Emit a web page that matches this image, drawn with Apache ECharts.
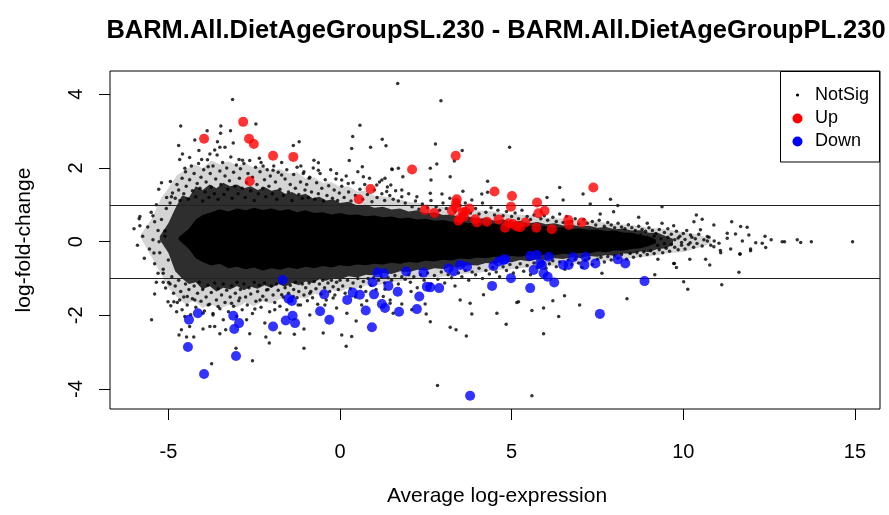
<!DOCTYPE html>
<html><head><meta charset="utf-8">
<script src="https://cdn.jsdelivr.net/npm/echarts@6/dist/echarts.min.js"></script>
<style>html,body{margin:0;padding:0;background:#fff}#c{width:889px;height:515px}</style>
</head><body><div id="c"></div>
<script>
const titleText = 'BARM.All.DietAgeGroupSL.230 - BARM.All.DietAgeGroupPL.230';
const xLabel = 'Average log-expression';
const yLabel = 'log-fold-change';
const xTicks = [-5, 0, 5, 10, 15];
const yTicks = [-4, -2, 0, 2, 4];
const xRange = [-6.7, 15.73];
const yRange = [-4.54, 4.63];
const thresholds = [1, -1];
const legendNames = ['NotSig', 'Up', 'Down'];

// significant genes
const upPoints = [[-3.96,2.79],[-2.82,3.25],[-2.65,2.79],[-2.51,2.65],[-2.63,1.64],[-1.95,2.33],[-1.36,2.30],[0.55,1.15],[0.89,1.43],[2.10,1.96],[3.37,2.33],[2.47,0.86],[2.75,0.78],[3.26,0.84],[3.38,1.05],[3.40,1.15],[3.38,0.95],[3.50,0.63],[3.58,0.80],[3.65,0.81],[3.77,0.90],[3.45,0.57],[3.60,0.68],[3.94,0.61],[3.99,0.52],[4.28,0.54],[4.50,1.36],[4.62,0.60],[4.81,0.38],[4.91,0.50],[5.01,1.24],[4.98,0.95],[5.04,0.48],[5.15,0.41],[5.25,0.39],[5.40,0.52],[5.72,0.38],[5.74,1.06],[5.78,0.77],[5.96,0.84],[6.17,0.34],[6.65,0.59],[6.67,0.45],[7.05,0.52],[7.38,1.47]];
const downPoints = [[-1.67,-1.04],[-4.40,-2.12],[-4.14,-1.94],[-4.43,-2.86],[-3.96,-3.59],[-3.11,-2.01],[-2.94,-2.21],[-3.08,-2.37],[-3.03,-3.10],[-1.95,-2.30],[-1.50,-1.55],[-1.40,-1.61],[-1.58,-2.14],[-1.38,-2.01],[-1.31,-2.21],[-0.46,-1.43],[-0.58,-1.89],[-0.31,-2.12],[0.21,-1.58],[0.37,-1.38],[0.58,-1.44],[0.75,-1.87],[0.93,-2.32],[0.99,-1.43],[0.95,-1.10],[1.09,-0.84],[1.28,-0.86],[1.41,-1.20],[1.22,-1.69],[1.31,-1.80],[1.68,-1.36],[1.72,-1.90],[1.93,-0.81],[2.31,-1.49],[2.24,-1.83],[2.43,-0.84],[2.53,-1.22],[2.63,-1.24],[2.89,-1.26],[3.16,-0.72],[3.31,-0.81],[3.50,-0.63],[3.70,-0.68],[4.43,-1.20],[4.47,-0.66],[4.62,-0.54],[4.76,-0.50],[4.81,-0.48],[4.98,-0.99],[5.54,-1.26],[5.54,-0.39],[5.74,-0.36],[5.64,-0.77],[5.83,-0.59],[5.88,-0.63],[5.93,-0.86],[6.08,-0.41],[6.05,-0.95],[6.24,-1.11],[6.50,-0.63],[6.66,-0.63],[6.79,-0.42],[7.15,-0.41],[7.12,-0.63],[7.44,-0.59],[8.09,-0.48],[8.31,-0.59],[8.87,-1.07],[7.57,-1.96],[3.79,-4.18]];

// not significant genes: isolated points
const notSigOutliers = `-3.13,3.86 -4.64,3.14 -3.47,3.14 -2.45,3.19 -3.87,3.01 -3.19,3.01 -3.48,2.94 -4.23,2.76 -4.70,2.61 -3.57,2.71 -3.35,2.56 -3.11,2.68 -4.11,2.47 -1.36,2.61 -1.19,2.71 0.58,3.16 0.37,2.85 1.23,2.78 1.34,2.60 0.89,2.56 0.34,2.53 0.27,2.20 0.65,2.03 1.68,4.29 1.52,1.96 1.70,1.99 -0.76,2.21 -0.63,2.14 -1.14,2.05
-5.83,0.68 -5.83,0.43 -5.45,0.70 -5.40,0.54 -5.28,1.42 -5.20,1.60 -4.94,1.63 -5.10,0.29 -5.06,0.90 -4.91,1.22 -4.67,2.23 -4.59,2.38 -4.38,2.28 -4.52,1.99 -4.03,2.23 -3.79,2.38 -3.65,2.49 -3.50,2.56 -3.84,2.03 -2.94,2.23 -2.84,2.21 -2.35,2.26 -2.24,2.05 -1.95,1.94 -1.70,1.81 -1.07,1.85 -0.90,1.72 -0.63,1.94 -0.10,1.85 0.05,1.67 0.24,1.58 0.68,1.76 1.07,1.54 1.31,1.72 1.48,1.54
2.94,3.82 2.78,2.65 4.94,2.56 3.56,2.47 3.33,2.19 2.82,2.11 2.63,1.99 2.65,1.67 3.21,1.76 1.83,1.76 1.51,1.97 4.30,1.64 6.40,1.47 7.08,1.29 7.88,1.15 8.09,0.98 6.50,1.13 7.29,1.02 9.38,0.95 9.38,0.50 9.72,0.43 3.58,1.37 4.13,1.29 4.30,1.34 3.84,1.13 2.97,1.29 2.63,1.31 2.24,1.22 1.80,1.40 1.36,1.36 1.22,1.67 6.03,1.20 7.58,0.75 7.97,0.81 8.70,0.66 8.95,0.50
10.38,0.72 10.55,0.61 10.31,0.54 10.89,0.45 11.41,0.54 11.67,0.41 11.86,0.39 11.28,0.23 11.52,0.21 11.72,0.02 11.91,0.18 12.11,-0.03 12.38,0.15 12.56,0.05 12.30,-0.04 12.88,0.00 12.95,0.00 13.32,0.05 13.42,-0.02 13.73,0.00 14.93,0.00 11.65,-0.33 11.96,-0.20 11.04,-0.04 10.89,-0.14 11.28,0.09 10.70,0.14 10.50,0.32 10.21,0.18 11.08,-0.24
9.72,-0.59 9.80,-0.70 10.19,-0.48 10.65,-0.48 10.77,-0.63 11.65,-0.34 11.62,-0.83 10.01,-1.09 10.13,-1.29 11.12,-1.17 11.96,-0.25 12.40,-0.16 11.09,-0.30 11.38,-0.20
1.26,-1.49 1.31,-1.29 1.80,-1.69 2.07,-1.35 2.48,-1.69 2.51,-1.96 2.63,-2.17 3.21,-2.32 3.38,-2.39 3.68,-2.56 3.50,-1.58 3.79,-1.67 3.84,-1.96 4.18,-1.44 4.57,-1.94 4.84,-2.24 5.15,-1.65 5.20,-1.63 5.59,-1.87 5.93,-1.80 5.93,-2.50 6.20,-1.60 6.37,-2.03 6.54,-1.47 6.98,-1.72 8.36,-1.55 7.63,-0.86 9.17,-0.90 9.26,-0.48 9.74,-0.59 2.84,-3.90 5.59,-4.18 2.09,-1.85 1.46,-1.67
-5.49,-2.12 -5.40,-1.42 -5.42,-0.31 -5.30,-0.86 -5.27,0.00 -5.15,-0.86 -5.35,-1.10 -5.15,-1.10 -4.99,-1.11 -5.08,-1.26 -5.01,-1.63 -4.84,-1.63 -4.93,-1.74 -4.76,-1.90 -4.62,-2.39 -4.69,-2.53 -4.47,-2.59 -4.26,-2.59 -4.38,-2.30 -3.99,-2.37 -3.79,-2.30 -3.65,-2.30 -3.74,-3.31 -3.03,-2.89 -2.55,-3.23 -3.33,-2.39 -3.50,-2.50 -2.63,-2.50 -2.16,-2.59 -2.06,-2.75 -1.75,-2.48 -1.33,-2.51 -1.05,-2.37 -1.05,-2.89 0.18,-2.84 0.34,-2.57 0.47,-2.15 0.05,-2.53 -0.49,-2.48 -0.88,-1.99 -1.22,-1.72 -1.90,-1.85 -2.19,-2.21 -2.48,-1.83 -2.72,-2.12 -3.01,-2.03 -3.40,-2.12 -3.70,-1.99 -3.99,-1.94 -4.52,-2.03 -4.67,-1.58 -4.45,-1.49 -4.23,-1.58 -0.44,-1.72 -0.10,-1.80 -0.20,-1.53 0.20,-1.94 0.63,-1.72 0.78,-1.60 1.46,-1.58 1.55,-1.94 -1.36,-1.49 -0.88,-1.40 -1.70,-1.44 -2.14,-1.31 -2.33,-1.58 -2.92,-1.53 -3.16,-1.67 -3.55,-1.76 -3.84,-1.72`;

// not significant genes: halo around the dense core (estimated)
const notSigHalo = `-4.95,1.05 -4.88,1.32 -4.8,1.18 -4.75,1.55 -4.7,1.4 -4.66,1.12 -4.6,1.72 -4.55,1.3 -4.5,1.9 -4.48,1.5 -4.42,1.15 -4.38,1.68 -4.33,2.05 -4.3,1.38 -4.25,1.85 -4.2,1.22 -4.16,1.58 -4.12,2.12 -4.08,1.45 -4.05,1.75 -4.0,1.1 -3.97,1.95
-3.93,1.35 -3.9,1.62 -3.86,2.22 -3.82,1.2 -3.78,1.85 -3.75,1.48 -3.7,2.05 -3.66,1.3 -3.62,1.7 -3.58,2.35 -3.55,1.15 -3.5,1.92 -3.47,1.55 -3.42,2.15 -3.38,1.28 -3.35,1.78 -3.3,2.0 -3.27,1.42 -3.22,1.65 -3.18,2.3 -3.14,1.18 -3.1,1.88 -3.06,1.5 -3.02,2.08
-2.97,1.3 -2.93,1.72 -2.9,1.98 -2.85,1.45 -2.8,2.12 -2.76,1.2 -2.72,1.6 -2.68,1.85 -2.63,2.2 -2.6,1.38 -2.55,1.75 -2.5,1.12 -2.46,2.02 -2.42,1.55 -2.38,1.3 -2.33,1.9 -2.3,2.15 -2.25,1.45 -2.2,1.68 -2.16,1.22 -2.12,1.95 -2.07,1.5 -2.03,1.78
-1.97,1.3 -1.93,2.05 -1.88,1.62 -1.84,1.15 -1.8,1.88 -1.75,1.42 -1.7,2.15 -1.65,1.25 -1.6,1.7 -1.55,1.95 -1.5,1.35 -1.45,1.55 -1.4,1.12 -1.35,1.82 -1.3,1.45 -1.25,2.02 -1.2,1.28 -1.15,1.62 -1.1,1.18 -1.05,1.9 -1.02,1.4
-0.97,1.55 -0.92,1.2 -0.88,1.75 -0.83,1.35 -0.78,2.0 -0.73,1.15 -0.68,1.6 -0.63,1.3 -0.58,1.85 -0.53,1.45 -0.48,1.1 -0.43,1.68 -0.38,1.25 -0.33,1.52 -0.27,1.95 -0.22,1.18 -0.17,1.4 -0.12,1.7 -0.07,1.12 -0.02,1.32
0.05,1.5 0.12,1.2 0.18,1.78 0.25,1.35 0.32,1.1 0.38,1.6 0.45,1.25 0.52,1.9 0.58,1.42 0.66,1.15 0.72,1.55 0.8,1.28 0.86,1.72 0.93,1.08 1.0,1.4 1.08,1.2 1.15,1.62 1.22,1.3 1.3,1.12 1.38,1.48 1.45,1.25 1.55,1.15 1.62,1.38 1.7,1.1 1.8,1.22 1.9,1.05 2.0,1.3
-4.95,-1.15 -4.9,-0.95 -4.85,-1.4 -4.8,-1.2 -4.74,-1.65 -4.7,-1.05 -4.64,-1.35 -4.6,-1.85 -4.55,-1.5 -4.5,-1.15 -4.45,-1.72 -4.4,-1.3 -4.35,-1.98 -4.3,-1.55 -4.25,-1.2 -4.2,-1.78 -4.15,-1.4 -4.1,-1.1 -4.05,-1.62 -4.0,-1.3
-3.95,-1.88 -3.9,-1.5 -3.85,-1.18 -3.8,-1.7 -3.75,-1.38 -3.7,-1.95 -3.65,-1.12 -3.6,-1.58 -3.55,-1.28 -3.5,-1.82 -3.45,-1.45 -3.4,-1.15 -3.35,-1.65 -3.3,-1.32 -3.25,-1.9 -3.2,-1.5 -3.15,-1.2 -3.1,-1.75 -3.05,-1.4 -3.0,-1.1
-2.95,-1.6 -2.9,-1.3 -2.85,-1.85 -2.8,-1.15 -2.75,-1.5 -2.7,-1.72 -2.65,-1.25 -2.6,-1.42 -2.55,-1.95 -2.5,-1.1 -2.45,-1.62 -2.4,-1.35 -2.35,-1.18 -2.3,-1.78 -2.25,-1.48 -2.2,-1.12 -2.15,-1.58 -2.1,-1.3 -2.05,-1.9 -2.0,-1.2
-1.95,-1.45 -1.9,-1.65 -1.85,-1.15 -1.8,-1.32 -1.75,-1.75 -1.7,-1.1 -1.65,-1.5 -1.6,-1.25 -1.55,-1.85 -1.5,-1.4 -1.45,-1.18 -1.4,-1.6 -1.35,-1.3 -1.3,-1.1 -1.25,-1.52 -1.2,-1.35 -1.15,-1.72 -1.1,-1.15 -1.05,-1.45 -1.0,-1.25
-0.95,-1.6 -0.9,-1.12 -0.85,-1.35 -0.8,-1.52 -0.75,-1.08 -0.7,-1.28 -0.65,-1.7 -0.6,-1.15 -0.55,-1.42 -0.5,-1.05 -0.45,-1.25 -0.4,-1.58 -0.35,-1.12 -0.3,-1.35 -0.25,-1.05 -0.2,-1.22 -0.15,-1.45 -0.1,-1.1 -0.05,-1.3 0.0,-1.05
0.08,-1.2 0.15,-1.4 0.22,-1.05 0.3,-1.28 0.38,-1.12 0.45,-1.5 0.52,-1.0 0.6,-1.22 0.68,-1.08 0.75,-1.35 0.82,-1.0 0.9,-1.18 0.98,-0.98 1.05,-1.3 1.12,-1.05 1.2,-0.95 1.3,-1.12 1.4,-0.98 1.5,-1.05 1.6,-0.92 1.7,-1.15 1.8,-0.95 1.9,-1.02 2.0,-0.9
2.1,0.95 2.2,1.1 2.3,0.88 2.4,1.02 2.55,0.92 2.65,1.12 2.8,0.95 2.9,0.85 3.0,1.05 3.1,0.9 3.2,1.18 3.35,0.82 3.5,0.98 3.65,1.05 3.8,0.78 3.95,0.9 4.05,0.75 4.15,1.05 4.25,0.8 4.4,0.92 4.5,0.72 4.6,0.85 4.75,0.7 4.85,0.82 5.0,0.68 5.1,0.78 5.2,0.62 5.3,0.85 5.45,0.68 5.55,0.6 5.65,0.72 5.85,0.62 5.95,0.7 6.05,0.58 6.2,0.66 6.3,0.55 6.4,0.75 6.5,0.52 6.6,0.68 6.75,0.55 6.85,0.62 6.95,0.48 7.1,0.6 7.2,0.5 7.35,0.55 7.45,0.45 7.55,0.58 7.7,0.42 7.8,0.52 7.9,0.45 8.0,0.38 8.1,0.5 8.2,0.4 8.3,0.35 8.4,0.46 8.5,0.38 8.6,0.3 8.7,0.42 8.8,0.33 8.9,0.28 9.0,0.38 9.1,0.3 9.2,0.22 9.3,0.33 9.45,0.25 9.55,0.35 9.65,0.2 9.8,0.28 9.9,0.15 10.0,0.22 10.1,0.3 10.25,0.12
2.05,-1.1 2.15,-0.95 2.25,-1.25 2.35,-0.9 2.45,-1.05 2.55,-0.85 2.65,-1.15 2.75,-0.92 2.85,-1.02 2.95,-0.82 3.05,-1.12 3.15,-0.9 3.25,-0.98 3.35,-1.2 3.45,-0.85 3.55,-0.95 3.65,-0.78 3.75,-1.05 3.85,-0.82 3.95,-0.9 4.05,-0.72 4.15,-1.0 4.25,-0.78 4.35,-0.88 4.45,-0.7 4.55,-0.82 4.65,-0.95 4.75,-0.68 4.85,-0.78 4.95,-0.62 5.05,-0.85 5.15,-0.7 5.25,-0.6 5.35,-0.8 5.45,-0.65 5.55,-0.9 5.65,-0.58 5.75,-0.7 5.9,-0.55 6.0,-0.72 6.1,-0.6 6.2,-0.52 6.3,-0.68 6.4,-0.55 6.55,-0.75 6.65,-0.5 6.75,-0.62 6.85,-0.48 6.95,-0.58 7.05,-0.7 7.15,-0.5 7.25,-0.45 7.35,-0.62 7.5,-0.48 7.6,-0.42 7.7,-0.55 7.8,-0.4 7.9,-0.5 8.0,-0.38 8.1,-0.45 8.2,-0.35 8.35,-0.48 8.45,-0.32 8.55,-0.42 8.65,-0.3 8.75,-0.38 8.85,-0.28 8.95,-0.35 9.05,-0.25 9.15,-0.32 9.3,-0.22 9.4,-0.3 9.5,-0.18 9.6,-0.26 9.75,-0.15 9.85,-0.22 9.95,-0.1 10.05,-0.2 10.15,-0.08 10.3,-0.15 10.4,-0.05 10.55,-0.12 10.7,0.02 10.8,-0.1
8.55,0.1 8.65,-0.12 8.75,0.18 8.85,-0.05 8.95,0.12 9.05,0.0 9.15,0.15 9.25,-0.1 9.35,0.08 9.45,-0.05 9.55,0.12 9.65,-0.08 9.75,0.05 9.85,0.1 9.95,-0.02 10.05,0.06 10.2,-0.03 10.35,0.08 10.45,0.2 10.6,0.05 10.75,0.12 10.9,0.02
-6.0,0.35 -5.9,-0.1 -5.85,0.62 -5.75,0.15 -5.7,-0.45 -5.6,0.4 -5.55,-0.2 -5.5,0.8 -5.45,0.05 -5.4,-0.6 -5.35,1.0 -5.3,0.3 -5.25,-0.3 -5.2,0.6 -5.15,-0.75 -5.1,0.15 -5.05,1.2 -5.0,-0.5`;

// envelopes of the NotSig cloud where its points overlap: [A, lowest M, highest M]
const haloEnvelope = [[-5.8,0.1,0.2],[-5.5,-0.4,0.6],[-5.2,-0.9,1.2],[-5.0,-1.25,1.45],[-4.75,-1.5,1.8],[-4.5,-1.7,1.95],[-4.25,-1.6,2.1],[-4.0,-1.8,2.0],[-3.75,-1.7,2.2],[-3.5,-1.82,2.1],[-3.25,-1.72,2.18],[-3.0,-1.78,2.05],[-2.75,-1.65,2.12],[-2.5,-1.75,2.0],[-2.25,-1.62,2.05],[-2.0,-1.68,1.92],[-1.75,-1.55,1.98],[-1.5,-1.62,1.85],[-1.25,-1.5,1.88],[-1.0,-1.55,1.72],[-0.75,-1.42,1.75],[-0.5,-1.45,1.6],[-0.25,-1.32,1.62],[0.0,-1.36,1.48],[0.25,-1.25,1.5],[0.5,-1.28,1.36],[0.75,-1.18,1.38],[1.0,-1.2,1.25],[1.5,-1.1,1.2],[2.0,-1.05,1.08],[2.5,-0.98,1.02],[3.0,-0.95,0.95],[3.5,-0.88,0.92],[4.0,-0.85,0.85],[4.5,-0.78,0.82],[5.0,-0.75,0.74],[5.5,-0.7,0.72],[6.0,-0.68,0.65],[6.5,-0.62,0.63],[7.0,-0.6,0.56],[7.5,-0.53,0.55],[8.0,-0.5,0.48],[8.5,-0.44,0.45],[9.0,-0.4,0.38],[9.5,-0.32,0.34],[10.0,-0.28,0.26],[10.5,-0.15,0.18],[10.8,-0.05,0.05]];
const speckledEnvelope = [[-5.25,0.05,0.15],[-5.0,-0.3,0.5],[-4.8,-0.8,0.9],[-4.6,-1.0,1.25],[-4.4,-1.15,1.2],[-4.2,-1.1,1.5],[-4.0,-1.3,1.4],[-3.8,-1.2,1.55],[-3.6,-1.35,1.45],[-3.4,-1.25,1.6],[-3.2,-1.3,1.5],[-3.0,-1.2,1.55],[-2.8,-1.32,1.45],[-2.6,-1.22,1.5],[-2.4,-1.28,1.4],[-2.2,-1.18,1.48],[-2.0,-1.25,1.38],[-1.8,-1.15,1.42],[-1.6,-1.22,1.3],[-1.4,-1.12,1.35],[-1.2,-1.18,1.25],[-1.0,-1.08,1.3],[-0.8,-1.12,1.18],[-0.6,-1.02,1.22],[-0.4,-1.06,1.12],[-0.2,-0.98,1.15],[0.0,-1.02,1.05],[0.25,-0.94,1.08],[0.5,-0.97,0.98],[0.75,-0.9,1.0],[1.0,-0.92,0.92],[1.25,-0.85,0.95],[1.5,-0.88,0.87],[1.75,-0.8,0.9],[2.0,-0.83,0.82],[2.25,-0.76,0.85],[2.5,-0.78,0.77],[2.75,-0.72,0.8],[3.0,-0.74,0.72],[3.25,-0.68,0.74],[3.5,-0.7,0.66],[3.75,-0.63,0.68],[4.0,-0.65,0.62],[4.25,-0.58,0.64],[4.5,-0.6,0.57],[4.75,-0.54,0.6],[5.0,-0.56,0.53],[5.25,-0.5,0.56],[5.5,-0.53,0.5],[5.75,-0.48,0.53],[6.0,-0.5,0.47],[6.25,-0.45,0.5],[6.5,-0.47,0.44],[6.75,-0.42,0.46],[7.0,-0.44,0.41],[7.25,-0.39,0.43],[7.5,-0.41,0.38],[7.75,-0.36,0.4],[8.0,-0.38,0.34],[8.25,-0.32,0.36],[8.5,-0.33,0.3],[8.75,-0.27,0.31],[9.0,-0.28,0.24],[9.25,-0.2,0.24],[9.5,-0.18,0.15],[9.7,-0.08,0.08]];
const solidEnvelope = [[-4.7,0.05,0.12],[-4.4,-0.2,0.35],[-4.2,-0.45,0.6],[-4.0,-0.55,0.72],[-3.75,-0.65,0.8],[-3.5,-0.6,0.88],[-3.25,-0.72,0.82],[-3.0,-0.68,0.9],[-2.75,-0.75,0.85],[-2.5,-0.7,0.92],[-2.25,-0.78,0.86],[-2.0,-0.72,0.9],[-1.75,-0.76,0.84],[-1.5,-0.7,0.88],[-1.25,-0.74,0.8],[-1.0,-0.68,0.85],[-0.75,-0.72,0.78],[-0.5,-0.66,0.8],[-0.25,-0.7,0.74],[0.0,-0.64,0.78],[0.25,-0.67,0.72],[0.5,-0.62,0.74],[0.75,-0.64,0.69],[1.0,-0.6,0.71],[1.25,-0.62,0.66],[1.5,-0.57,0.68],[1.75,-0.6,0.63],[2.0,-0.55,0.65],[2.25,-0.57,0.6],[2.5,-0.52,0.62],[2.75,-0.54,0.57],[3.0,-0.49,0.59],[3.25,-0.51,0.54],[3.5,-0.46,0.55],[3.75,-0.48,0.5],[4.0,-0.43,0.52],[4.25,-0.45,0.47],[4.5,-0.41,0.49],[4.75,-0.43,0.45],[5.0,-0.39,0.46],[5.25,-0.41,0.43],[5.5,-0.37,0.44],[5.75,-0.39,0.41],[6.0,-0.35,0.42],[6.25,-0.37,0.38],[6.5,-0.33,0.39],[6.75,-0.34,0.35],[7.0,-0.3,0.36],[7.25,-0.32,0.32],[7.5,-0.27,0.33],[7.75,-0.29,0.29],[8.0,-0.24,0.3],[8.25,-0.25,0.25],[8.5,-0.2,0.24],[8.75,-0.18,0.18],[9.0,-0.12,0.14],[9.2,-0.04,0.05]];

const parsePairs = s => s.trim().split(/\s+/).map(p => p.split(',').map(Number));
const notSigPoints = parsePairs(notSigOutliers).concat(parsePairs(notSigHalo));

const FONT = '"Liberation Sans", Arial, sans-serif';
function envelopeRenderer(arr, fill) {
  return function (params, api) {
    if (params.dataIndex !== 0) return null;
    const pts = [];
    for (let i = 0; i < arr.length; i++) pts.push(api.coord([arr[i][0], arr[i][2]]));
    for (let i = arr.length - 1; i >= 0; i--) pts.push(api.coord([arr[i][0], arr[i][1]]));
    return { type: 'polygon', shape: { points: pts }, style: { fill: fill } };
  };
}
function envelopeSeries(arr, fill, z) {
  return { type: 'custom', name: 'NotSig', data: arr, encode: { x: 0, y: [1, 2] }, renderItem: envelopeRenderer(arr, fill), z: z, silent: true, clip: true };
}

const chart = echarts.init(document.getElementById('c'), null, { renderer: 'canvas' });
chart.setOption({
  animation: false,
  backgroundColor: '#fff',
  grid: { left: 110, top: 71, width: 770, height: 338, show: true, borderColor: '#000', borderWidth: 1, backgroundColor: 'transparent' },
  xAxis: {
    type: 'value', min: xRange[0], max: xRange[1],
    axisLine: { show: false, onZero: false }, splitLine: { show: false },
    axisTick: { show: true, inside: false, length: 11, customValues: xTicks, lineStyle: { color: '#000' } },
    axisLabel: { customValues: xTicks, margin: 33, color: '#000', fontSize: 20, fontFamily: FONT }
  },
  yAxis: {
    type: 'value', min: yRange[0], max: yRange[1],
    axisLine: { show: false, onZero: false }, splitLine: { show: false },
    axisTick: { show: true, inside: false, length: 11, customValues: yTicks, lineStyle: { color: '#000' } },
    axisLabel: { customValues: yTicks, rotate: 90, margin: 24, color: '#000', fontSize: 20, fontFamily: FONT }
  },
  series: [
    envelopeSeries(haloEnvelope, '#d4d4d4', 1),
    envelopeSeries(speckledEnvelope, '#2e2e2e', 2),
    envelopeSeries(solidEnvelope, '#000', 3),
    { type: 'scatter', name: legendNames[0], data: notSigPoints, symbol: 'circle', symbolSize: 3.5, itemStyle: { color: '#000' }, z: 4, silent: true },
    { type: 'scatter', name: legendNames[1], data: upPoints, symbol: 'circle', symbolSize: 10, itemStyle: { color: '#ff0000' }, z: 5, silent: true },
    { type: 'scatter', name: legendNames[2], data: downPoints, symbol: 'circle', symbolSize: 10, itemStyle: { color: '#0000ff' }, z: 6, silent: true },
    { type: 'line', name: 'threshold', data: [], z: 7, silent: true,
      markLine: { symbol: 'none', silent: true, label: { show: false }, lineStyle: { color: '#222', type: 'solid', width: 1 },
        data: thresholds.map(v => ({ yAxis: v })) } }
  ],
  graphic: [
    { type: 'text', x: 496, y: 31, style: { text: titleText, fill: '#000', font: 'bold 25.5px ' + FONT, align: 'center', verticalAlign: 'middle' } },
    { type: 'text', x: 497, y: 496, style: { text: xLabel, fill: '#000', font: '21px ' + FONT, align: 'center', verticalAlign: 'middle' } },
    { type: 'text', x: 24, y: 240, rotation: Math.PI / 2, style: { text: yLabel, fill: '#000', font: '21px ' + FONT, align: 'center', verticalAlign: 'middle' } },
    { type: 'rect', shape: { x: 780.5, y: 71.5, width: 99, height: 90.5 }, style: { fill: '#fff', stroke: '#000', lineWidth: 1 }, z: 10 },
    { type: 'circle', shape: { cx: 797.5, cy: 95, r: 1.6 }, style: { fill: '#000' }, z: 11 },
    { type: 'circle', shape: { cx: 797.5, cy: 118.5, r: 5 }, style: { fill: '#ff0000' }, z: 11 },
    { type: 'circle', shape: { cx: 797.5, cy: 141.5, r: 5 }, style: { fill: '#0000ff' }, z: 11 },
    { type: 'text', x: 815, y: 95, style: { text: legendNames[0], fill: '#000', font: '18px ' + FONT, align: 'left', verticalAlign: 'middle' }, z: 11 },
    { type: 'text', x: 815, y: 118.5, style: { text: legendNames[1], fill: '#000', font: '18px ' + FONT, align: 'left', verticalAlign: 'middle' }, z: 11 },
    { type: 'text', x: 815, y: 141.5, style: { text: legendNames[2], fill: '#000', font: '18px ' + FONT, align: 'left', verticalAlign: 'middle' }, z: 11 }
  ]
});
</script>
</body></html>
